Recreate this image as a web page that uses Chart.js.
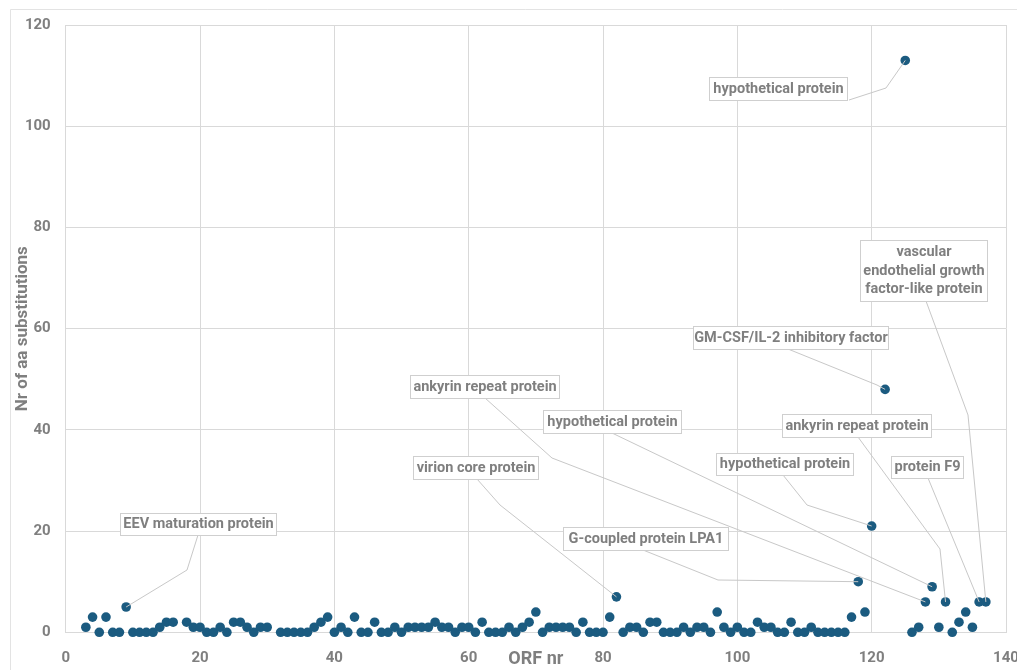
<!DOCTYPE html>
<html>
<head>
<meta charset="utf-8">
<title>Amino-acid substitutions per ORF</title>
<script src="https://cdn.jsdelivr.net/npm/chart.js@4.4.1/dist/chart.umd.min.js"></script>
<style>
  html, body { margin: 0; padding: 0; overflow: hidden; background: #ffffff; }
  #wrap { width: 1017px; height: 670px; overflow: hidden; }
</style>
</head>
<body>
<div id="wrap"><canvas id="chart" width="1040" height="670"></canvas></div>
<script>
// ORF number (x) and number of amino-acid substitutions (y)
const orfNumbers = [
  3, 4, 5, 6, 7, 8, 9, 10, 11, 12, 13, 14, 15, 16, 18, 19, 20, 21, 22, 23, 24, 25, 26, 27, 28, 29, 30,
  32, 33, 34, 35, 36, 37, 38, 39, 40, 41, 42, 43, 44, 45, 46, 47, 48, 49, 50, 51, 52, 53, 54, 55, 56,
  57, 58, 59, 60, 61, 62, 63, 64, 65, 66, 67, 68, 69, 70, 71, 72, 73, 74, 75, 76, 77, 78, 79, 80, 81,
  82, 83, 84, 85, 86, 87, 88, 89, 90, 91, 92, 93, 94, 95, 96, 97, 98, 99, 100, 101, 102, 103, 104,
  105, 106, 107, 108, 109, 110, 111, 112, 113, 114, 115, 116, 117, 118, 119, 120, 122, 125, 126, 127,
  128, 129, 130, 131, 132, 133, 134, 135, 136, 137
];
const substitutions = [
  1, 3, 0, 3, 0, 0, 5, 0, 0, 0, 0, 1, 2, 2, 2, 1, 1, 0, 0, 1, 0, 2, 2, 1, 0, 1, 1,
  0, 0, 0, 0, 0, 1, 2, 3, 0, 1, 0, 3, 0, 0, 2, 0, 0, 1, 0, 1, 1, 1, 1, 2, 1,
  1, 0, 1, 1, 0, 2, 0, 0, 0, 1, 0, 1, 2, 4, 0, 1, 1, 1, 1, 0, 2, 0, 0, 0, 3,
  7, 0, 1, 1, 0, 2, 2, 0, 0, 0, 1, 0, 1, 1, 0, 4, 1, 0, 1, 0, 0, 2, 1,
  1, 0, 0, 2, 0, 0, 1, 0, 0, 0, 0, 0, 3, 10, 4, 21, 48, 113, 0, 1,
  6, 9, 1, 6, 0, 2, 4, 1, 6, 6
];

// Axis ticks
const xTicks = [0, 20, 40, 60, 80, 100, 120, 140];
const yTicks = [0, 20, 40, 60, 80, 100, 120];

// Annotated ORFs: protein name (one entry per text line) and the ORF it points to
const calloutTexts = [
  ['hypothetical protein'],
  ['vascular', 'endothelial growth', 'factor-like protein'],
  ['GM-CSF/IL-2 inhibitory factor'],
  ['ankyrin repeat protein'],
  ['hypothetical protein'],
  ['virion core protein'],
  ['G-coupled protein LPA1'],
  ['hypothetical protein'],
  ['ankyrin repeat protein'],
  ['protein F9'],
  ['EEV maturation protein']
];
const calloutOrfs = [125, 137, 122, 128, 129, 82, 118, 120, 131, 136, 9];

// Placement of each callout box (canvas px) and the bends of its leader line
const calloutLayout = [
  { box: [709, 77, 138, 23], bends: [[849, 100], [886, 88]] },
  { box: [860, 240, 127, 61], bends: [[926, 301], [968, 415]] },
  { box: [693, 326, 195, 23], bends: [[788, 349], [877, 385]] },
  { box: [410, 375, 149, 23], bends: [[485, 398], [552, 458]] },
  { box: [543, 410, 138, 23], bends: [[612, 433]] },
  { box: [413, 456, 125, 23], bends: [[477, 479], [500, 505]] },
  { box: [563, 527, 165, 23], bends: [[643, 550], [718, 580]] },
  { box: [716, 453, 137, 22], bends: [[783, 475], [807, 505]] },
  { box: [782, 414, 149, 23], bends: [[858, 437], [940, 549]] },
  { box: [891, 456, 72, 22], bends: [[928, 478]] },
  { box: [120, 513, 156, 22], bends: [[198, 535], [187, 570]] }
];

const GREY_TEXT = '#7f7f7f';
const GRID = '#d9d9d9';
const FONT = 'Roboto';

// Light frame around the plot and white background
const framePlugin = {
  id: 'frame',
  beforeDraw(chart) {
    const ctx = chart.ctx;
    ctx.save();
    ctx.fillStyle = '#ffffff';
    ctx.fillRect(0, 0, chart.width, chart.height);
    ctx.strokeStyle = '#e3e3e3';
    ctx.lineWidth = 1;
    ctx.beginPath();
    ctx.moveTo(10.5, chart.height);
    ctx.lineTo(10.5, 9.5);
    ctx.lineTo(chart.width, 9.5);
    ctx.stroke();
    ctx.restore();
  }
};

// Boxed protein names with leader lines to their ORF markers
const calloutPlugin = {
  id: 'callouts',
  afterDatasetsDraw(chart) {
    const ctx = chart.ctx;
    const xs = chart.scales.x, ys = chart.scales.y;
    ctx.save();
    ctx.strokeStyle = '#c8c8c8';
    ctx.lineWidth = 1;
    calloutOrfs.forEach((orf, i) => {
      const idx = orfNumbers.indexOf(orf);
      const px = xs.getPixelForValue(orf);
      const py = ys.getPixelForValue(substitutions[idx]);
      const bends = calloutLayout[i].bends;
      ctx.beginPath();
      ctx.moveTo(bends[0][0], bends[0][1]);
      for (let k = 1; k < bends.length; k++) ctx.lineTo(bends[k][0], bends[k][1]);
      ctx.lineTo(px, py);
      ctx.stroke();
    });
    ctx.font = 'bold 14.5px ' + FONT;
    ctx.textAlign = 'center';
    ctx.textBaseline = 'middle';
    calloutTexts.forEach((lines, i) => {
      const [bx, by, bw, bh] = calloutLayout[i].box;
      ctx.fillStyle = '#ffffff';
      ctx.fillRect(bx, by, bw, bh);
      ctx.strokeStyle = '#cfcfcf';
      ctx.strokeRect(bx + 0.5, by + 0.5, bw, bh);
      ctx.fillStyle = GREY_TEXT;
      const lh = lines.length > 1 ? 18.7 : 0;
      const cy = by + bh / 2 + 0.5;
      lines.forEach((t, k) => {
        ctx.fillText(t, bx + bw / 2 + 0.5, cy + (k - (lines.length - 1) / 2) * lh);
      });
    });
    ctx.restore();
  }
};

const points = orfNumbers.map((x, i) => ({ x, y: substitutions[i] }));

new Chart(document.getElementById('chart'), {
  type: 'scatter',
  data: {
    datasets: [{
      data: points,
      backgroundColor: '#1b5b80',
      borderWidth: 0,
      pointRadius: 4.8,
      pointHoverRadius: 4.8,
      clip: false
    }]
  },
  options: {
    responsive: false,
    animation: false,
    devicePixelRatio: 1,
    layout: { autoPadding: false, padding: { top: 25, right: 34, bottom: 0, left: 0 } },
    plugins: { legend: { display: false }, tooltip: { enabled: false } },
    scales: {
      x: {
        type: 'linear',
        min: 0,
        max: 140,
        afterBuildTicks: s => { s.ticks = xTicks.map(v => ({ value: v })); },
        afterFit: s => { s.height = 37.7; },
        grid: { color: GRID, drawTicks: false, lineWidth: 1 },
        border: { color: GRID },
        ticks: { color: GREY_TEXT, font: { family: FONT, size: 15, weight: 'bold' }, padding: 17, maxRotation: 0 },
        title: {
          display: true, text: 'ORF nr', color: GREY_TEXT,
          font: { family: FONT, size: 18, weight: 'bold' }, padding: { top: 0, bottom: 0 }
        }
      },
      y: {
        type: 'linear',
        min: 0,
        max: 120,
        afterBuildTicks: s => { s.ticks = yTicks.map(v => ({ value: v })); },
        afterFit: s => { s.width = 65.7; },
        grid: { color: GRID, drawTicks: false, lineWidth: 1 },
        border: { color: GRID },
        ticks: { color: GREY_TEXT, font: { family: FONT, size: 15, weight: 'bold' }, padding: 15 },
        title: {
          display: true, text: 'Nr of aa substitutions', color: GREY_TEXT,
          font: { family: FONT, size: 17, weight: 'bold' }, padding: { top: 13, bottom: 0 }
        }
      }
    }
  },
  plugins: [framePlugin, calloutPlugin]
});
</script>
</body>
</html>
